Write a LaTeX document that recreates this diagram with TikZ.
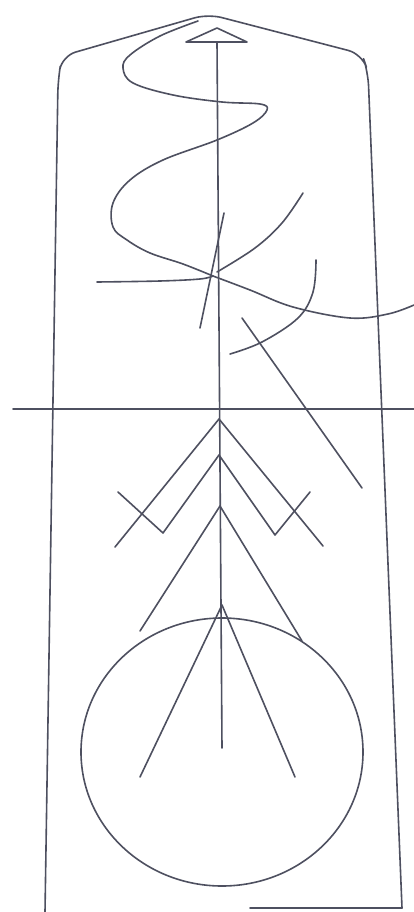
\documentclass[tikz,border=0pt]{standalone}
\usepackage{tikz}
\usetikzlibrary{calc}
\definecolor{pencil}{RGB}{78,80,96}

\begin{document}
\begin{tikzpicture}[
    x=1pt, y=-1pt,
    stroke/.style={draw=pencil, line width=1.6pt, line cap=round, line join=round},
    sketch/.style={stroke, smooth, tension=0.6}
]
\useasboundingbox[fill=white] (0,0) rectangle (414,912);

% ── Outline of the panel ──
\coordinate (apex) at (208,14);
\coordinate (lshoulder) at (58,80);
\coordinate (rshoulder) at (368,72);
\coordinate (lfoot) at (45,912);
\coordinate (rfoot) at (402,908);
\draw[stroke, rounded corners=14pt] (lfoot) -- (lshoulder) -- (62,56) -- (apex) -- (362,54) -- (rshoulder) -- (rfoot);
\draw[stroke] (rfoot) -- (250,908);

% ── Cross line ──
\coordinate (hleft) at (13,409);
\coordinate (hright) at (414,409);
\draw[stroke] (hleft) -- (hright);

% ── Central shaft with arrow head ──
\coordinate (shafttop) at (217,42);
\coordinate (shaftend) at (222,748);
\draw[stroke] (shafttop) -- (shaftend);
\draw[stroke] (186,42) -- (217,28) -- (247,42) -- cycle;

% ── Serpent ──
\coordinate (knot) at (213,276);
\draw[sketch] plot coordinates {(198,21) (160,36) (130,55) (123,68) (133,83) (173,95) (222,102) (260,104) (267,110) (253,123)
  (217,140) (163,160) (130,180) (113,203) (113,227) (127,240) (150,253) (183,264) (213,276)};
\draw[sketch] plot coordinates {(213,276) (250,290) (293,307) (350,318) (388,314) (414,305)};
\draw[sketch] plot coordinates {(97,282) (160,281) (200,279) (213,276)};
\draw[sketch] plot coordinates {(303,193) (282,223) (255,248) (217,272)};
\draw[stroke] (224,213) -- (200,328);

% ── Right hook and slash ──
\draw[sketch] plot coordinates {(316,260) (313,292) (298,318) (262,342) (230,354)};
\draw[stroke] (242,318) -- (362,488);

% ── Chevrons ──
\coordinate (chev1) at (219,419);
\coordinate (chev2) at (219,455);
\coordinate (chev3) at (220,506);
\draw[stroke] (115,547) -- (chev1) -- (323,546);
\draw[stroke] (118,492) -- (163,533) -- (chev2) -- (275,535) -- (310,492);
\draw[stroke] (140,631) -- (chev3) -- (302,641);

% ── Sun and rays ──
\coordinate (sun) at (222,752);
\draw[stroke] (sun) ellipse [x radius=141, y radius=134];
\coordinate (rays) at (222,605);
\draw[stroke] (140,777) -- (rays) -- (295,777);

\end{tikzpicture}
\end{document}
